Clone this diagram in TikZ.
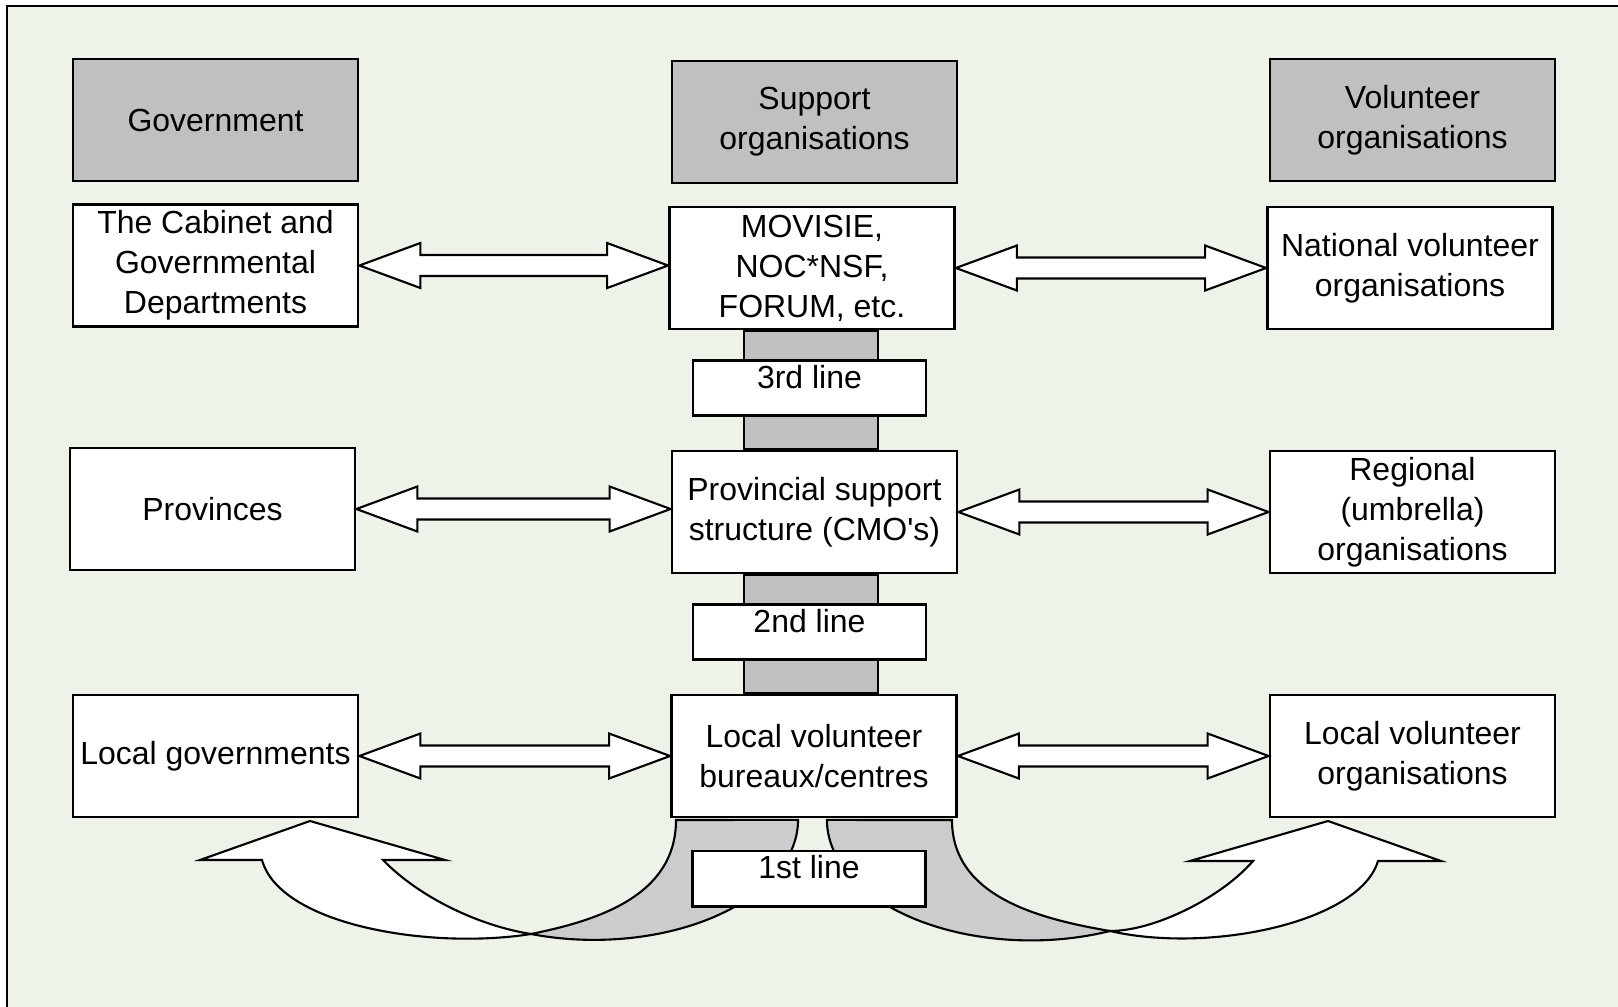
\documentclass[tikz,border=0pt]{standalone}
\usepackage{fontspec}
\setmainfont{Liberation Sans}
\usetikzlibrary{calc}
\definecolor{bggreen}{RGB}{237,243,232}
\definecolor{hdrgray}{RGB}{192,192,192}
\definecolor{curvegray}{RGB}{204,204,204}
\newcommand\dblarr[2]{%
  \draw[dblarrow] let \p1=(#1.east), \p2=(#2.west) in
    (\x1,\y1) -- (\x1+0.61cm,\y1+0.225cm) -- (\x1+0.61cm,\y1+0.105cm)
    -- (\x2-0.61cm,\y1+0.105cm) -- (\x2-0.61cm,\y1+0.225cm) -- (\x2,\y1)
    -- (\x2-0.61cm,\y1-0.225cm) -- (\x2-0.61cm,\y1-0.105cm)
    -- (\x1+0.61cm,\y1-0.105cm) -- (\x1+0.61cm,\y1-0.225cm) -- cycle;}
\tikzset{
  txt/.style={font=\fontsize{9.1pt}{11.4pt}\selectfont},
  box/.style={txt, draw, line width=0.8pt, fill=white, minimum width=2.85cm,
    minimum height=1.22cm, align=center, inner sep=1pt},
  hdr/.style={box, fill=hdrgray},
  linebox/.style={txt, draw, line width=0.8pt, fill=white, minimum width=2.33cm,
    inner xsep=0pt, inner ysep=0pt, text height=0.276cm, text depth=0.276cm},
  dblarrow/.style={draw, fill=white, line width=0.6pt, line join=miter},
  bar/.style={draw, fill=hdrgray, line width=0.8pt},
  curvewhite/.style={draw, fill=white, line width=0.6pt, line join=miter},
  curvegrayst/.style={draw, fill=curvegray, line width=0.6pt, line join=miter}
}
\begin{document}
\begin{tikzpicture}
\useasboundingbox (0,0) rectangle (16.18,-10.07);
\fill[white] (0,0) rectangle (16.18,-10.07);
\fill[bggreen] (0.07,-0.06) rectangle (16.18,-10.07);
\draw[line width=0.8pt] (0.07,-10.07) -- (0.07,-0.06) -- (16.18,-0.06);

% headers
\node[hdr] (gov) at (2.155,-1.20) {Government};
\node[hdr] (sup) at (8.145,-1.22) {Support\\organisations};
\node[hdr] (vol) at (14.125,-1.20) {Volunteer\\organisations};
% row 1
\node[box] (cab) at (2.155,-2.655) {The Cabinet and\\Governmental\\Departments};
\node[box] (mov) at (8.12,-2.68) {MOVISIE,\\NOC*NSF,\\FORUM, etc.};
\node[box] (nat) at (14.10,-2.68) {National volunteer\\organisations};
% row 2
\node[box] (provs) at (2.125,-5.09) {Provinces};
\node[box] (pss) at (8.145,-5.12) {Provincial support\\structure (CMO\textquotesingle s)};
\node[box] (reg) at (14.125,-5.12) {Regional\\(umbrella)\\organisations};
% row 3
\node[box] (lgov) at (2.155,-7.56) {Local governments};
\node[box] (lvb) at (8.14,-7.56) {Local volunteer\\bureaux/centres};
\node[box] (lvo) at (14.125,-7.56) {Local volunteer\\organisations};

% vertical bars
\draw[bar] let \p1=(mov.south), \p2=(pss.north) in (7.44,\y1) rectangle (8.78,\y2);
\draw[bar] let \p1=(pss.south), \p2=(lvb.north) in (7.44,\y1) rectangle (8.78,\y2);

% double arrows
\dblarr{cab}{mov}
\dblarr{mov}{nat}
\dblarr{provs}{pss}
\dblarr{pss}{reg}
\dblarr{lgov}{lvb}
\dblarr{lvb}{lvo}

% curved arrows: grey back parts
\draw[curvegrayst] (6.76,-8.20) .. controls (6.76,-8.97) and (5.95,-9.21) .. (5.31,-9.34)
  arc[start angle=-108, end angle=0, x radius=2.04cm, y radius=1.20cm] -- cycle;
\draw[curvegrayst] (9.52,-8.20) .. controls (9.52,-8.97) and (10.40,-9.19) .. (11.10,-9.31)
  arc[start angle=-67.2, end angle=-180, x radius=2.04cm, y radius=1.205cm] -- cycle;
% white fronts
\draw[curvewhite] (3.10,-8.21) -- (4.45,-8.60) -- (3.83,-8.60)
  .. controls (4.20,-8.98) and (4.80,-9.26) .. (5.31,-9.34)
  .. controls (4.30,-9.50) and (2.80,-9.25) .. (2.62,-8.60) -- (2.00,-8.60) -- cycle;
\draw[curvewhite] (13.28,-8.21) -- (11.90,-8.61) -- (12.53,-8.61)
  .. controls (12.22,-8.97) and (11.55,-9.31) .. (11.10,-9.31)
  .. controls (12.10,-9.54) and (13.60,-9.22) .. (13.78,-8.61) -- (14.41,-8.61) -- cycle;

% line labels
\node[linebox] (l3) at (8.095,-3.88) {3rd line};
\node[linebox] (l2) at (8.095,-6.32) {2nd line};
\node[linebox] (l1) at (8.09,-8.785) {1st line};
\end{tikzpicture}
\end{document}
